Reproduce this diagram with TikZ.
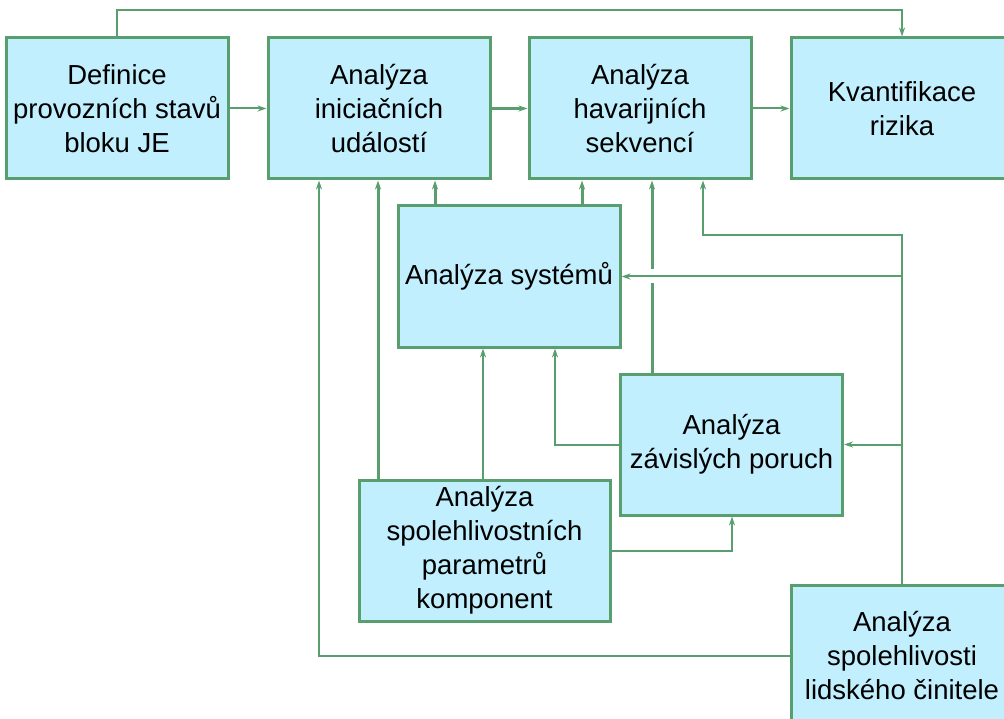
\documentclass[tikz,border=0pt]{standalone}
\usepackage{fontspec}
\setmainfont{Liberation Sans}
\usetikzlibrary{arrows.meta}
\definecolor{edge}{RGB}{88,158,110}
\definecolor{boxfill}{RGB}{193,239,253}
\begin{document}
\begin{tikzpicture}[x=1pt,y=-1pt,
  box/.style={draw=edge,fill=boxfill,line width=3pt,rectangle,inner sep=0pt,
    minimum width=222pt,minimum height=141pt,align=center,
    font=\fontsize{27.5}{34}\selectfont},
  link/.style={draw=edge,line width=2pt,-{Stealth[length=9pt,width=6pt,inset=3pt]}},
  thicklink/.style={link,line width=3pt},
  plain/.style={draw=edge,line width=2pt}]
\useasboundingbox (0,0) rectangle (1004,719);
\clip (0,0) rectangle (1004,719);
% blocks
\node[box] (def) at (117,108.5) {Definice\\provozních stavů\\bloku JE};
\node[box] (ini) at (379,108.5) {Analýza\\iniciačních\\událostí};
\node[box] (hav) at (640,108.5) {Analýza\\havarijních\\sekvencí};
\node[box] (kv)  at (902,108.5) {Kvantifikace\\rizika};
\node[box] (sys) at (509,276.5) {Analýza systémů};
\node[box] (zav) at (731.5,444.5) {Analýza\\závislých poruch};
\node[box,minimum width=251pt] (spo) at (484.5,550.5) {Analýza\\spolehlivostních\\parametrů\\komponent};
\node[box] (lid) at (902,655.5) {Analýza\\spolehlivosti\\lidského činitele};
% routing levels
\coordinate (top) at (0,10);
\coordinate (xa) at (319,0);
\coordinate (xb) at (378,0);
\coordinate (xc) at (435,0);
\coordinate (xd) at (582,0);
\coordinate (xe) at (652,0);
\coordinate (xf) at (703,0);
\coordinate (xg) at (555,0);
\coordinate (xh) at (483,0);
\coordinate (xi) at (732,0);
\coordinate (ya) at (0,235);
\coordinate (gapLo) at (0,283);
\coordinate (gapHi) at (0,269);
% main chain
\draw[link] (def.north) -- (def.north |- top) -| (kv.north);
\draw[link] (def.east) -- (ini.west);
\draw[thicklink] (ini.east) -- (hav.west);
\draw[link] (hav.east) -- (kv.west);
% feeds into initiating events
\draw[link] (lid.west) -| (ini.south -| xa);
\draw[thicklink] (spo.north -| xb) -- (ini.south -| xb);
\draw[thicklink] (sys.north -| xc) -- (ini.south -| xc);
% feeds into accident sequences
\draw[thicklink] (sys.north -| xd) -- (hav.south -| xd);
\draw[plain,line width=3pt] (zav.north -| xe) -- (xe |- gapLo);
\draw[thicklink] (xe |- gapHi) -- (hav.south -| xe);
\draw[link] (lid.north) |- (xf |- ya) -- (hav.south -| xf);
% human reliability into systems and dependent failures
\draw[link] (lid.north |- sys.east) -- (sys.east);
\draw[link] (lid.north |- zav.east) -- (zav.east);
% component reliability and dependent failures into systems
\draw[link] (zav.west) -| (sys.south -| xg);
\draw[link] (spo.north -| xh) -- (sys.south -| xh);
\draw[link] (spo.east) -| (zav.south -| xi);
\end{tikzpicture}
\end{document}
